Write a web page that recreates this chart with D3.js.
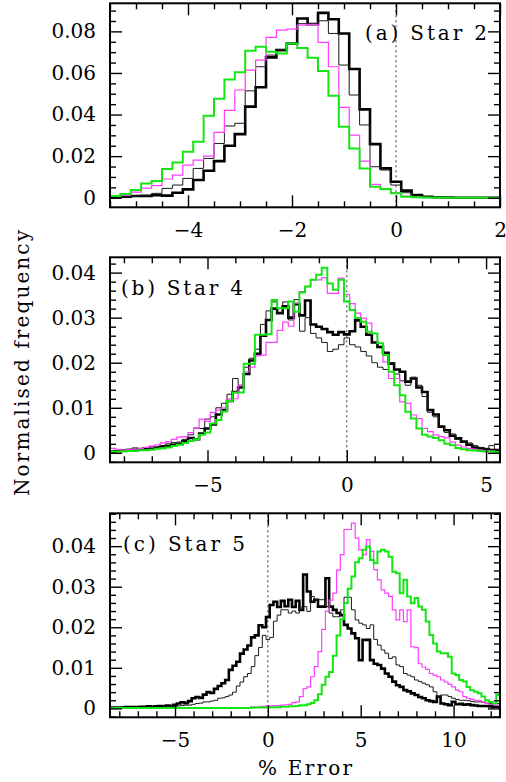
<!DOCTYPE html>
<html>
<head>
<meta charset="utf-8">
<script src="https://cdn.jsdelivr.net/npm/d3@7"></script>
<style>
  body { margin: 0; background: #fff; }
</style>
</head>
<body>
<div id="chart"></div>
<script>
// Normalised frequency of the % error, three stars, four runs each.
// Bins are 0.2 wide; each array starts at the first bin centre given below.

// PANEL (a) Star 2 -- first bin centre -5.4
const aFirst = -5.4;
const aThick = [0.0003, 0.0005, 0.0008, 0.0009, 0.0012, 0.0010, 0.0024, 0.0040, 0.0085, 0.0130, 0.0176, 0.0250, 0.0306, 0.0438, 0.0531, 0.0675, 0.0710, 0.0742, 0.0862, 0.0835, 0.0889, 0.0858, 0.0790, 0.0619, 0.0425, 0.0258, 0.0141, 0.0077, 0.0034, 0.0013, 0.0005, 0.0002, 0.0001, 0, 0, 0, 0, 0];
const aThin = [0.0002, 0.0004, 0.0007, 0.0010, 0.0021, 0.0045, 0.0061, 0.0093, 0.0141, 0.0189, 0.0261, 0.0345, 0.0358, 0.0514, 0.0630, 0.0686, 0.0713, 0.0742, 0.0837, 0.0835, 0.0851, 0.0790, 0.0638, 0.0494, 0.0350, 0.0149, 0.0133, 0.0061, 0.0024, 0.0008, 0.0003, 0.0001, 0, 0, 0, 0, 0, 0];
const aMagenta = [0.0007, 0.0013, 0.0027, 0.0046, 0.0058, 0.0090, 0.0109, 0.0157, 0.0181, 0.0200, 0.0314, 0.0420, 0.0518, 0.0614, 0.0662, 0.0771, 0.0806, 0.0811, 0.0830, 0.0834, 0.0747, 0.0630, 0.0435, 0.0301, 0.0176, 0.0064, 0.0040, 0.0024, 0.0008, 0.0002, 0.0001, 0, 0, 0, 0, 0, 0, 0];
const aGreen = [0.0008, 0.0018, 0.0037, 0.0069, 0.0080, 0.0138, 0.0170, 0.0221, 0.0269, 0.0394, 0.0476, 0.0569, 0.0604, 0.0707, 0.0726, 0.0702, 0.0694, 0.0742, 0.0720, 0.0673, 0.0610, 0.0490, 0.0341, 0.0237, 0.0141, 0.0053, 0.0042, 0.0021, 0.0005, 0.0002, 0.0001, 0.0001, 0, 0, 0, 0, 0, 0];

// PANEL (b) Star 4 -- first bin centre -8.4
const bFirst = -8.4;
const bThick = [0.0003,0.0004,0.0005,0.0006,0.0006,0.0008,0.0010,0.0009,0.0012,0.0014, 0.0015,0.0018,0.0020,0.0026,0.0033,0.0030,0.0043,0.0054,0.0063,0.0085, 0.0095,0.0115,0.0135,0.0145,0.0175,0.0205,0.0220,0.0260,0.0295,0.0320, 0.0310,0.0325,0.0300,0.0330,0.0305,0.0338,0.0285,0.0280,0.0275,0.0268, 0.0262,0.0268,0.0263,0.0270,0.0294,0.0280,0.0262,0.0245,0.0235,0.0222, 0.0198,0.0185,0.0180,0.0158,0.0165,0.0145,0.0135,0.0095,0.0085,0.0058, 0.0050,0.0038,0.0032,0.0025,0.0018,0.0012,0.0010,0.0008,0.0006,0.0005];
const bThin = [0.0002,0.0004,0.0006,0.0008,0.0011,0.0010,0.0012,0.0014,0.0013,0.0016, 0.0020,0.0023,0.0024,0.0030,0.0040,0.0055,0.0054,0.0075,0.0080,0.0100, 0.0110,0.0130,0.0165,0.0150,0.0190,0.0210,0.0230,0.0285,0.0315,0.0335, 0.0310,0.0335,0.0295,0.0340,0.0270,0.0300,0.0265,0.0255,0.0245,0.0225, 0.0230,0.0240,0.0255,0.0240,0.0235,0.0225,0.0215,0.0200,0.0190,0.0185, 0.0200,0.0175,0.0160,0.0150,0.0168,0.0150,0.0125,0.0090,0.0080,0.0060, 0.0045,0.0042,0.0030,0.0024,0.0022,0.0016,0.0012,0.0010,0.0016,0.0008];
const bMagenta = [0.0010,0.0008,0.0006,0.0007,0.0008,0.0010,0.0012,0.0015,0.0018,0.0022, 0.0025,0.0030,0.0035,0.0036,0.0045,0.0055,0.0075,0.0070,0.0090,0.0095, 0.0100,0.0120,0.0120,0.0150,0.0180,0.0190,0.0215,0.0217,0.0245,0.0245, 0.0272,0.0290,0.0281,0.0332,0.0358,0.0369,0.0384,0.0384,0.0389,0.0354, 0.0354,0.0388,0.0352,0.0331,0.0310,0.0299,0.0288,0.0265,0.0243,0.0202, 0.0165,0.0165,0.0113,0.0110,0.0084,0.0076,0.0054,0.0047,0.0040,0.0036, 0.0033,0.0024,0.0017,0.0013,0.0010,0.0008,0.0006,0.0005,0.0004,0.0003];
const bGreen = [0.0003,0.0003,0.0003,0.0004,0.0004,0.0006,0.0006,0.0007,0.0009,0.0010, 0.0012,0.0015,0.0018,0.0022,0.0026,0.0030,0.0040,0.0045,0.0065,0.0073, 0.0092,0.0115,0.0134,0.0134,0.0198,0.0198,0.0262,0.0262,0.0263,0.0339, 0.0321,0.0321,0.0336,0.0313,0.0356,0.0369,0.0384,0.0395,0.0411,0.0376, 0.0362,0.0384,0.0336,0.0317,0.0299,0.0291,0.0269,0.0265,0.0243,0.0217, 0.0180,0.0150,0.0128,0.0091,0.0076,0.0054,0.0040,0.0036,0.0033,0.0028, 0.0020,0.0017,0.0011,0.0008,0.0006,0.0005,0.0004,0.0003,0.0003,0.0002];

// PANEL (c) Star 5 -- first bin centre -8.4
const cFirst = -8.4;
const cThick = [0.0002,0.0002,0.0002,0.0002,0.0003,0.0003,0.0003,0.0003,0.0004,0.0004, 0.0005,0.0004,0.0005,0.0006,0.0005,0.0007,0.0006,0.0009,0.0012,0.0015, 0.0013,0.0018,0.0025,0.0028,0.0026,0.0034,0.0040,0.0038,0.0048,0.0055, 0.0062,0.0070,0.0095,0.0105,0.0115,0.0135,0.0145,0.0155,0.0175,0.0180, 0.0205,0.0200,0.0225,0.0255,0.0263,0.0250,0.0265,0.0252,0.0268,0.0250, 0.0265,0.0243,0.0330,0.0288,0.0263,0.0268,0.0251,0.0251,0.0321,0.0251, 0.0243,0.0235,0.0230,0.0206,0.0197,0.0185,0.0173,0.0119,0.0169,0.0169, 0.0119,0.0110,0.0107,0.0098,0.0086,0.0078,0.0066,0.0057,0.0053,0.0045, 0.0042,0.0037,0.0033,0.0028,0.0025,0.0020,0.0018,0.0016,0.0029,0.0012, 0.0010,0.0008,0.0016,0.0010,0.0011,0.0009,0.0010,0.0008,0.0007,0.0006, 0.0006,0.0006,0.0005,0.0004,0.0004];
const cThin = [0.0001,0.0001,0.0001,0.0001,0.0001,0.0002,0.0002,0.0002,0.0002,0.0002, 0.0003,0.0003,0.0003,0.0003,0.0004,0.0004,0.0005,0.0005,0.0006,0.0007, 0.0008,0.0008,0.0010,0.0012,0.0013,0.0016,0.0016,0.0018,0.0020,0.0025, 0.0026,0.0029,0.0033,0.0040,0.0055,0.0065,0.0078,0.0086,0.0103,0.0130, 0.0150,0.0180,0.0170,0.0175,0.0215,0.0230,0.0243,0.0243,0.0235,0.0240, 0.0235,0.0250,0.0251,0.0239,0.0276,0.0268,0.0268,0.0268,0.0251,0.0235, 0.0226,0.0226,0.0243,0.0274,0.0274,0.0243,0.0218,0.0210,0.0206,0.0197, 0.0206,0.0170,0.0156,0.0144,0.0136,0.0123,0.0127,0.0107,0.0103,0.0086, 0.0082,0.0078,0.0070,0.0066,0.0062,0.0058,0.0053,0.0041,0.0029,0.0033, 0.0033,0.0029,0.0025,0.0022,0.0020,0.0020,0.0019,0.0017,0.0016,0.0016, 0.0015,0.0013,0.0012,0.0012,0.0012];
const cMagenta = [0.0001,0.0001,0.0001,0.0001,0.0001,0.0001,0.0001,0.0001,0.0001,0.0001, 0.0001,0.0001,0.0001,0.0001,0.0001,0.0001,0.0001,0.0001,0.0001,0.0001, 0.0001,0.0001,0.0001,0.0001,0.0001,0.0001,0.0001,0.0001,0.0002,0.0002, 0.0002,0.0002,0.0002,0.0002,0.0002,0.0002,0.0002,0.0002,0.0003,0.0003, 0.0004,0.0005,0.0006,0.0006,0.0007,0.0007,0.0008,0.0009,0.0010,0.0014, 0.0016,0.0029,0.0049,0.0053,0.0078,0.0103,0.0140,0.0195,0.0240,0.0267, 0.0284,0.0341,0.0379,0.0441,0.0441,0.0457,0.0420,0.0391,0.0379,0.0416, 0.0387,0.0342,0.0317,0.0292,0.0284,0.0276,0.0243,0.0218,0.0243,0.0214, 0.0243,0.0152,0.0150,0.0110,0.0102,0.0096,0.0086,0.0082,0.0078,0.0070, 0.0065,0.0059,0.0053,0.0045,0.0041,0.0029,0.0025,0.0022,0.0020,0.0019, 0.0016,0.0012,0.0010,0.0009,0.0008];
const cGreen = [0.0001,0.0001,0.0001,0.0001,0.0001,0.0001,0.0001,0.0001,0.0001,0.0001, 0.0001,0.0001,0.0001,0.0001,0.0001,0.0001,0.0001,0.0001,0.0001,0.0001, 0.0001,0.0001,0.0001,0.0001,0.0001,0.0001,0.0001,0.0001,0.0001,0.0001, 0.0001,0.0001,0.0001,0.0001,0.0001,0.0001,0.0001,0.0001,0.0002,0.0002, 0.0002,0.0002,0.0002,0.0003,0.0003,0.0003,0.0004,0.0004,0.0005,0.0005, 0.0006,0.0008,0.0008,0.0010,0.0013,0.0020,0.0035,0.0058,0.0078,0.0090, 0.0130,0.0180,0.0220,0.0260,0.0295,0.0325,0.0360,0.0370,0.0391,0.0399, 0.0366,0.0358,0.0387,0.0391,0.0387,0.0374,0.0337,0.0333,0.0284,0.0317, 0.0276,0.0259,0.0272,0.0251,0.0243,0.0214,0.0181,0.0160,0.0140,0.0136, 0.0136,0.0127,0.0086,0.0082,0.0070,0.0066,0.0053,0.0045,0.0041,0.0037, 0.0029,0.0020,0.0016,0.0012,0.0033];

const binWidth = 0.2;

// line styles for the four runs (drawn in this order)
const seriesStyle = [
	{ stroke: "#000000", width: 2.6 },	// thick black
	{ stroke: "#1a1a1a", width: 1.0 },	// thin black
	{ stroke: "#ff3cff", width: 1.2 },	// magenta
	{ stroke: "#14e614", width: 2.0 }	// green
];

const width = 506;
const height = 782;
const frameLeft = 110;
const frameRight = 500;
const fontFamily = "'DejaVu Serif', serif";

const svg = d3
	.select("#chart")
	.append("svg")
	.attr("width", width)
	.attr("height", height);

// tick values between lo and hi that are multiples of step
function multiples(lo, hi, step) {
	return d3.range(Math.ceil(lo / step - 1e-9), Math.floor(hi / step + 1e-9) + 1)
		.map((k) => +(k * step).toFixed(5));
}
function minorOnly(lo, hi, minor, major) {
	return multiples(lo, hi, minor).filter((v) => Math.abs(v / major - Math.round(v / major)) > 1e-6);
}
const fmtX = (d) => (d < 0 ? "\u2212" + Math.abs(d) : "" + d);
const fmtY = (d) => (d === 0 ? "0" : d3.format(".2f")(d));

function createPanel(p, idx) {
	const x = d3.scaleLinear().domain(p.xDomain).range([frameLeft, frameRight]);
	const y = d3.scaleLinear().domain(p.yDomain).range([p.bottom, p.top]);

	const g = svg.append("g");

	// clip for the histograms
	const clipId = "clip" + idx;
	g.append("clipPath")
		.attr("id", clipId)
		.append("rect")
		.attr("x", frameLeft)
		.attr("y", p.top)
		.attr("width", frameRight - frameLeft)
		.attr("height", p.bottom - p.top);

	// dotted zero line
	g.append("line")
		.attr("x1", x(0)).attr("x2", x(0))
		.attr("y1", p.bottom).attr("y2", p.top)
		.attr("stroke", "#333")
		.attr("stroke-width", 1)
		.attr("stroke-dasharray", "2,3");

	// histograms as step lines
	const line = d3.line();
	const hists = g.append("g").attr("clip-path", `url(#${clipId})`);
	p.series.forEach((vals, s) => {
		const pts = [];
		vals.forEach((v, i) => {
			const c = p.first + i * binWidth;
			pts.push([x(c - binWidth / 2), y(v)]);
			pts.push([x(c + binWidth / 2), y(v)]);
		});
		hists.append("path")
			.attr("d", line(pts))
			.attr("fill", "none")
			.attr("stroke", seriesStyle[s].stroke)
			.attr("stroke-width", seriesStyle[s].width)
			.attr("stroke-linejoin", "miter");
	});

	// inward ticks on all four sides
	const xMaj = multiples(p.xDomain[0], p.xDomain[1], p.xMajor);
	const xMin = minorOnly(p.xDomain[0], p.xDomain[1], p.xMinor, p.xMajor);
	const yMaj = multiples(p.yDomain[0], p.yDomain[1], p.yMajor);
	const yMin = minorOnly(p.yDomain[0], p.yDomain[1], p.yMinor, p.yMajor);
	const tickSets = [
		[d3.axisTop(x), `translate(0,${p.bottom})`, xMaj, xMin],
		[d3.axisBottom(x), `translate(0,${p.top})`, xMaj, xMin],
		[d3.axisRight(y), `translate(${frameLeft},0)`, yMaj, yMin],
		[d3.axisLeft(y), `translate(${frameRight},0)`, yMaj, yMin]
	];
	tickSets.forEach(([axis, tr, maj, min]) => {
		[[maj, 12], [min, 6]].forEach(([vals, size]) => {
			const a = g.append("g")
				.attr("transform", tr)
				.call(axis.tickValues(vals).tickSize(size).tickFormat(""));
			a.select(".domain").remove();
			a.selectAll("line").attr("stroke", "#000").attr("stroke-width", 1.4);
		});
	});

	// tick labels
	const xLab = g.append("g")
		.attr("transform", `translate(0,${p.bottom})`)
		.call(d3.axisBottom(x).tickValues(xMaj).tickSize(0).tickPadding(16).tickFormat(fmtX));
	const yLab = g.append("g")
		.attr("transform", `translate(${frameLeft},0)`)
		.call(d3.axisLeft(y).tickValues(yMaj.filter((v) => v >= 0)).tickSize(0).tickPadding(14).tickFormat(fmtY));
	[xLab, yLab].forEach((a) => {
		a.select(".domain").remove();
		a.attr("font-family", fontFamily).attr("font-size", 20);
		a.selectAll("text").attr("fill", "#000");
	});

	// frame
	g.append("rect")
		.attr("x", frameLeft)
		.attr("y", p.top)
		.attr("width", frameRight - frameLeft)
		.attr("height", p.bottom - p.top)
		.attr("fill", "none")
		.attr("stroke", "#000")
		.attr("stroke-width", 2);

	// panel label
	g.append("text")
		.attr("x", p.labelX)
		.attr("y", p.labelY)
		.attr("font-family", fontFamily)
		.attr("font-size", 20)
		.attr("textLength", 122)
		.attr("lengthAdjust", "spacing")
		.text(p.label);
}

const panels = [
	{ label: "(a) Star 2", labelX: 365, labelY: 40, top: 3.3, bottom: 207.3,
	  xDomain: [-5.5, 2], yDomain: [-0.0046, 0.0935], xMajor: 2, xMinor: 0.5, yMajor: 0.02, yMinor: 0.005,
	  first: aFirst, series: [aThick, aThin, aMagenta, aGreen] },
	{ label: "(b) Star 4", labelX: 121, labelY: 295, top: 257.3, bottom: 462.3,
	  xDomain: [-8.5, 5.5], yDomain: [-0.0021, 0.0434], xMajor: 5, xMinor: 1, yMajor: 0.01, yMinor: 0.002,
	  first: bFirst, series: [bThick, bThin, bMagenta, bGreen] },
	{ label: "(c) Star 5", labelX: 123, labelY: 551, top: 513.3, bottom: 717.3,
	  xDomain: [-8.5, 12.5], yDomain: [-0.0022, 0.0481], xMajor: 5, xMinor: 1, yMajor: 0.01, yMinor: 0.002,
	  first: cFirst, series: [cThick, cThin, cMagenta, cGreen] }
];

panels.forEach(createPanel);

// axis titles
svg.append("text")
	.attr("transform", "translate(29,363)rotate(-90)")
	.attr("text-anchor", "middle")
	.attr("font-family", fontFamily)
	.attr("font-size", 20)
	.attr("textLength", 266)
	.attr("lengthAdjust", "spacing")
	.text("Normalised frequency");

svg.append("text")
	.attr("x", 305)
	.attr("y", 775)
	.attr("text-anchor", "middle")
	.attr("font-family", fontFamily)
	.attr("font-size", 20)
	.attr("textLength", 94)
	.attr("lengthAdjust", "spacing")
	.text("% Error");
</script>
